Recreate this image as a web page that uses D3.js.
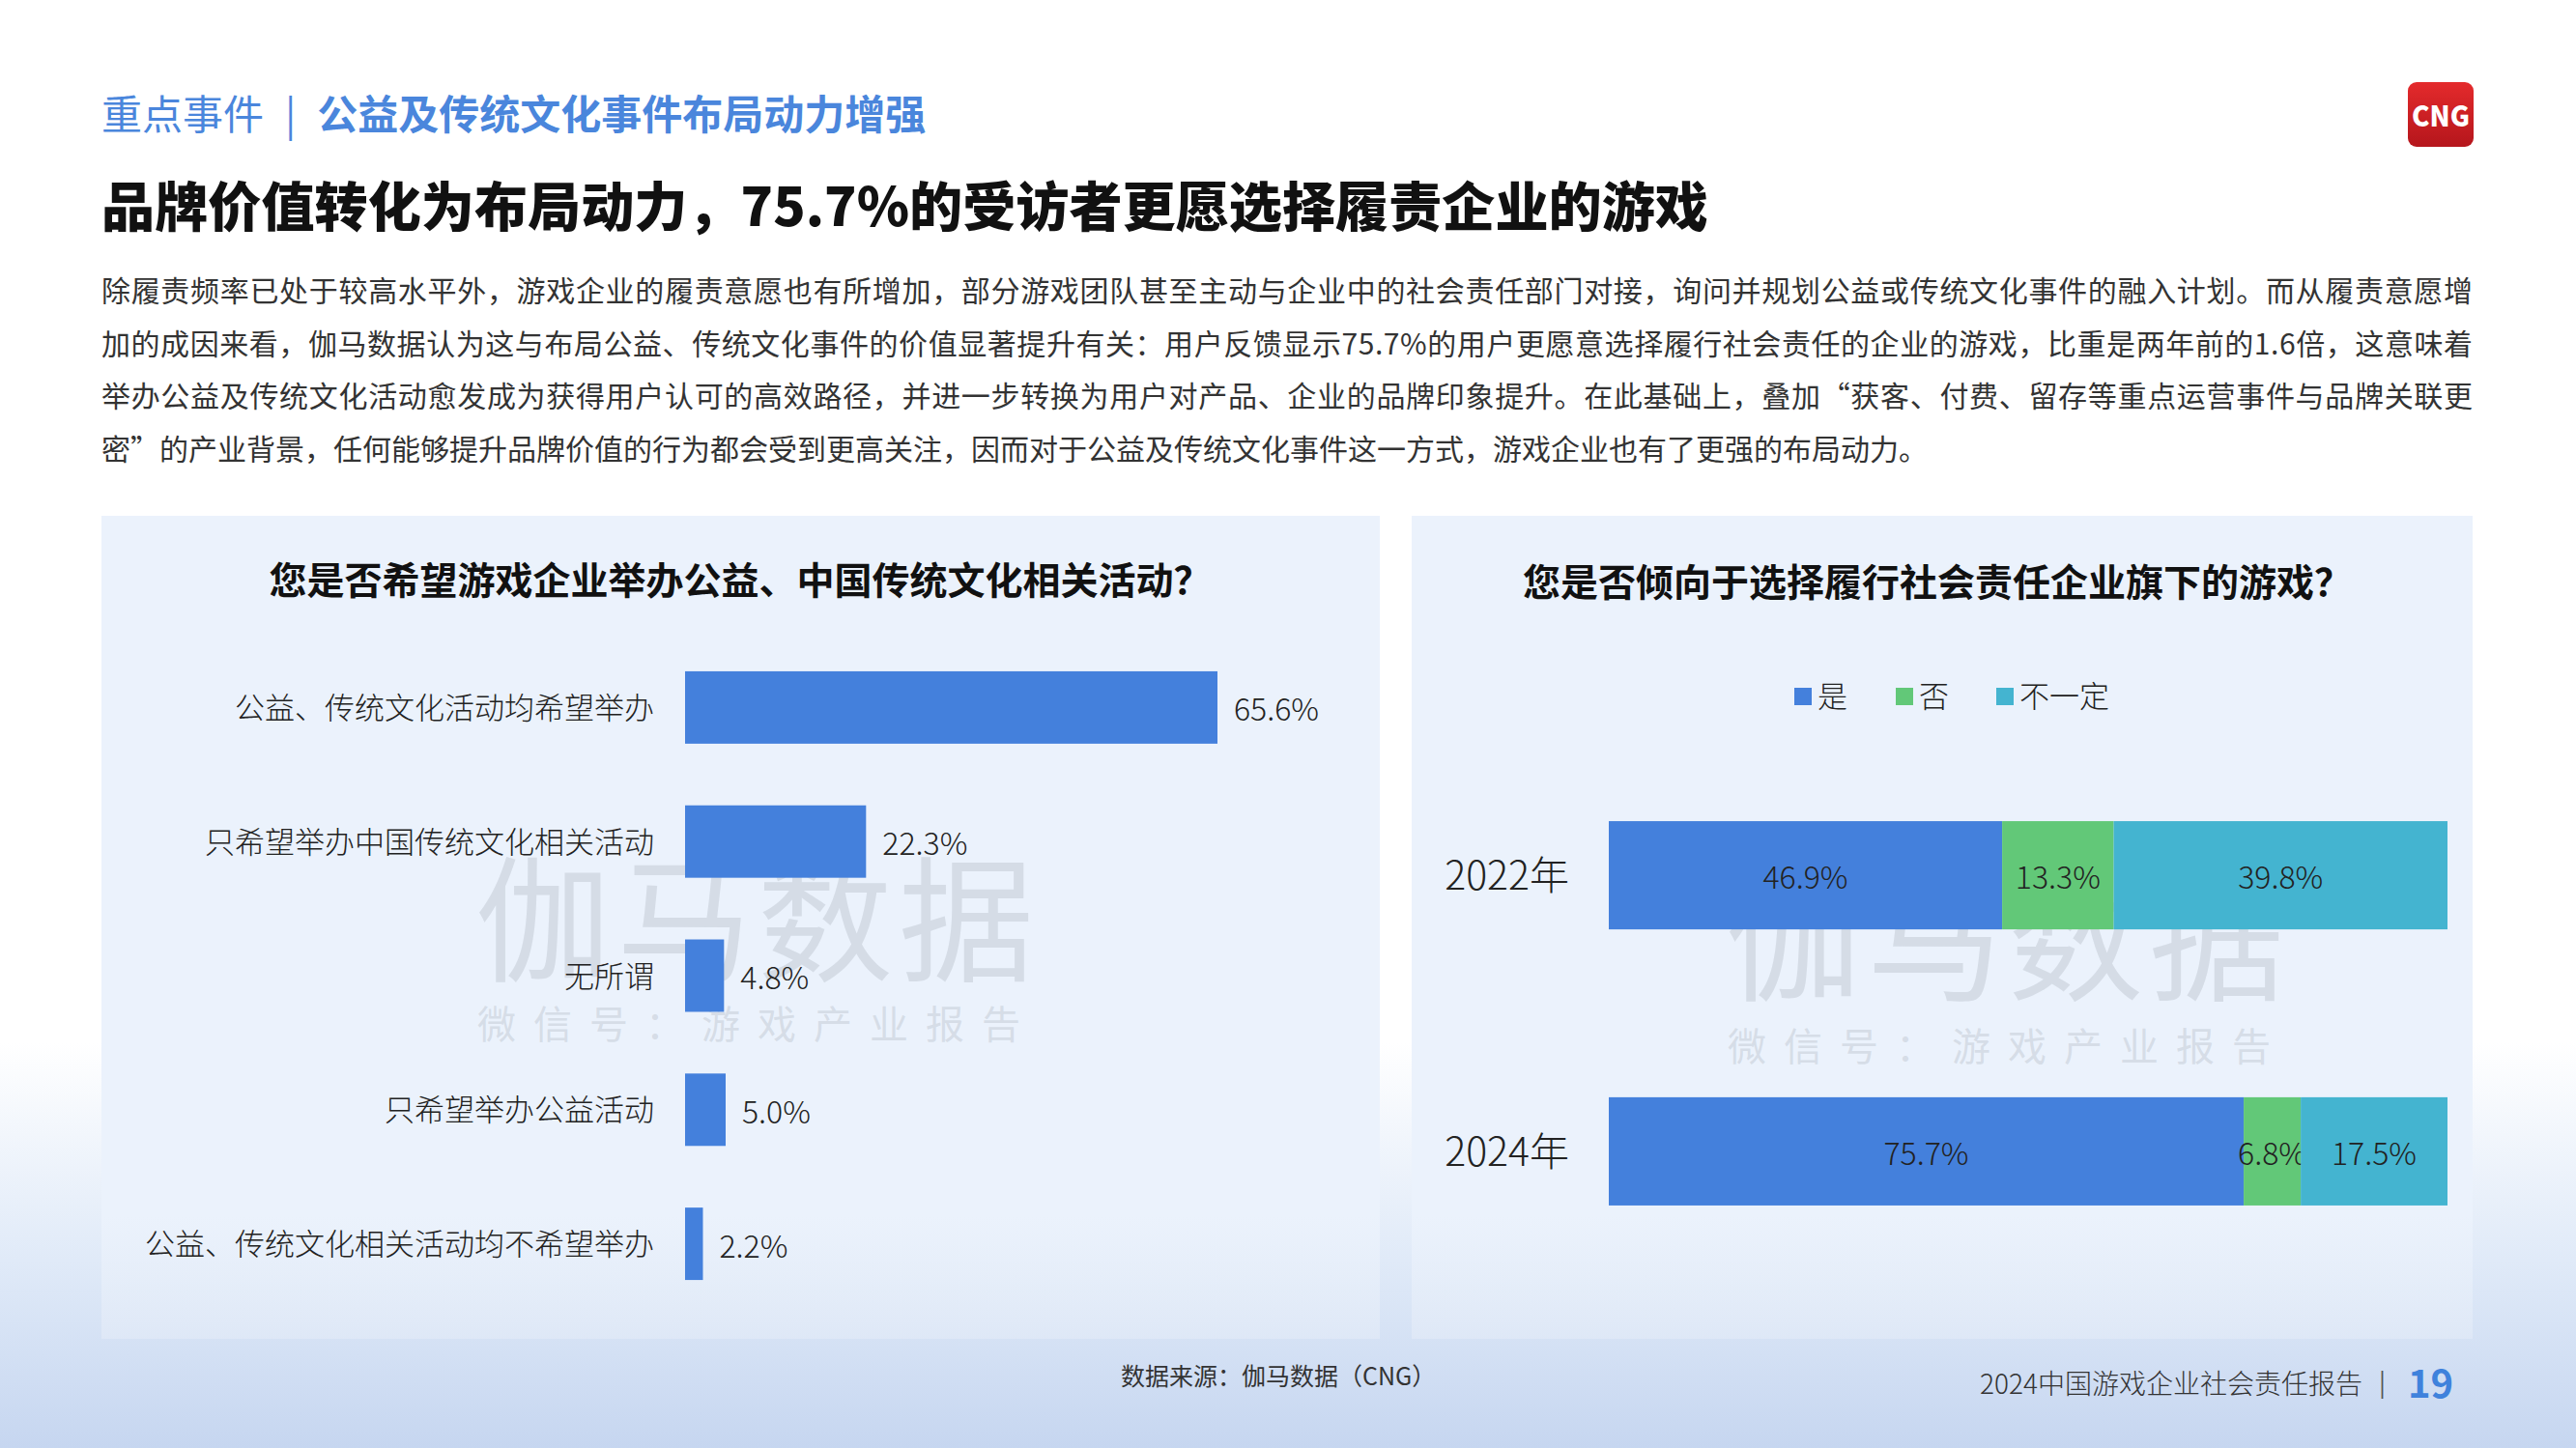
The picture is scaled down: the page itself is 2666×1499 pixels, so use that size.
<!DOCTYPE html>
<html><head><meta charset="utf-8">
<script src="https://cdn.jsdelivr.net/npm/d3@7/dist/d3.min.js"></script>
<style>
html,body{margin:0;padding:0;background:#fff;}
svg{display:block;}
text{font-family:"Noto Sans CJK SC","Noto Sans",sans-serif;}
</style></head>
<body>
<svg id="chart" width="2666" height="1499"></svg>
<script>
// ---------- data ----------
const leftCategories = ["公益、传统文化活动均希望举办","只希望举办中国传统文化相关活动","无所谓","只希望举办公益活动","公益、传统文化相关活动均不希望举办"];
const leftValues = [65.6, 22.3, 4.8, 5.0, 2.2];

const years = ["2022年","2024年"];
const seriesNames = ["是","否","不一定"];
const seriesYes = [46.9, 75.7];
const seriesNo = [13.3, 6.8];
const seriesMaybe = [39.8, 17.5];

const paragraphLines = [
 "除履责频率已处于较高水平外，游戏企业的履责意愿也有所增加，部分游戏团队甚至主动与企业中的社会责任部门对接，询问并规划公益或传统文化事件的融入计划。而从履责意愿增",
 "加的成因来看，伽马数据认为这与布局公益、传统文化事件的价值显著提升有关：用户反馈显示75.7%的用户更愿意选择履行社会责任的企业的游戏，比重是两年前的1.6倍，这意味着",
 "举办公益及传统文化活动愈发成为获得用户认可的高效路径，并进一步转换为用户对产品、企业的品牌印象提升。在此基础上，叠加“获客、付费、留存等重点运营事件与品牌关联更",
 "密”的产业背景，任何能够提升品牌价值的行为都会受到更高关注，因而对于公益及传统文化事件这一方式，游戏企业也有了更强的布局动力。"
];

// ---------- drawing ----------
const svg = d3.select("#chart");
const defs = svg.append("defs");

const bgGrad = defs.append("linearGradient").attr("id","bg").attr("x1",0).attr("y1",0).attr("x2",0).attr("y2",1);
bgGrad.append("stop").attr("offset","0").attr("stop-color","#ffffff");
bgGrad.append("stop").attr("offset","0.72").attr("stop-color","#ffffff");
bgGrad.append("stop").attr("offset","0.87").attr("stop-color","#e0eaf8");
bgGrad.append("stop").attr("offset","1").attr("stop-color","#c6d6f0");
svg.append("rect").attr("width",2666).attr("height",1499).attr("fill","url(#bg)");

const panelGrad = defs.append("linearGradient").attr("id","panel").attr("x1",0).attr("y1",0).attr("x2",0).attr("y2",1);
panelGrad.append("stop").attr("offset","0").attr("stop-color","#ebf2fc");
panelGrad.append("stop").attr("offset","0.85").attr("stop-color","#ebf2fc");
panelGrad.append("stop").attr("offset","1").attr("stop-color","#e4ecf8").attr("stop-opacity",0.6);

const logoGrad = defs.append("linearGradient").attr("id","logo").attr("x1",0).attr("y1",0).attr("x2",0).attr("y2",1);
logoGrad.append("stop").attr("offset","0").attr("stop-color","#e42a2c");
logoGrad.append("stop").attr("offset","1").attr("stop-color","#b5161c");

// header
const hdr = svg.append("text").attr("x",105).attr("y",134).attr("font-size",42).attr("fill","#4a86dc");
hdr.append("tspan").attr("font-weight",400).text("重点事件");
hdr.append("tspan").attr("font-weight",400).attr("dx",22).text("|");
hdr.append("tspan").attr("font-weight",700).attr("dx",22).text("公益及传统文化事件布局动力增强");

// logo
svg.append("rect").attr("x",2492).attr("y",85).attr("width",68).attr("height",67).attr("rx",9).attr("fill","url(#logo)");
svg.append("text").attr("x",2526).attr("y",131).attr("text-anchor","middle").attr("font-size",30)
  .attr("font-weight",900).attr("fill","#fff").attr("font-family","'DejaVu Serif','Liberation Serif',serif")
  .attr("textLength",60).attr("lengthAdjust","spacingAndGlyphs").text("CNG");

// title
svg.append("text").attr("x",105).attr("y",234).attr("font-size",55).attr("font-weight",900).attr("fill","#111")
  .attr("textLength",1663).attr("lengthAdjust","spacingAndGlyphs")
  .text("品牌价值转化为布局动力，75.7%的受访者更愿选择履责企业的游戏");

// paragraph
paragraphLines.forEach((ln,i)=>{
  const t = svg.append("text").attr("x",105).attr("y",312 + i*54.5).attr("font-size",30).attr("fill","#333").text(ln);
  if(i < paragraphLines.length-1) t.attr("textLength",2454).attr("lengthAdjust","spacing");
});

// panels
svg.append("rect").attr("x",105).attr("y",534).attr("width",1323).attr("height",852).attr("fill","url(#panel)");
svg.append("rect").attr("x",1461).attr("y",534).attr("width",1098).attr("height",852).attr("fill","url(#panel)");

// watermarks
function watermark(cx, y1, y2){
  svg.append("text").attr("x",cx).attr("y",y1).attr("text-anchor","middle").attr("font-size",140)
    .attr("fill","#b4bcc6").attr("fill-opacity",0.4).attr("letter-spacing",6).text("伽马数据");
  svg.append("text").attr("x",cx).attr("y",y2).attr("text-anchor","middle").attr("font-size",40)
    .attr("fill","#b4bcc6").attr("fill-opacity",0.4).attr("letter-spacing",18).text("微信号：游戏产业报告");
}
watermark(784, 1005, 1075);
watermark(2078, 1025, 1098);

// ---------- left chart ----------
svg.append("text").attr("x",766).attr("y",615).attr("text-anchor","middle").attr("font-size",39)
  .attr("font-weight",700).attr("fill","#111").text("您是否希望游戏企业举办公益、中国传统文化相关活动？");

const xL = d3.scaleLinear().domain([0,65.6]).range([709,1260]);
const yL = d3.scaleBand().domain(leftCategories).range([663,1357]).paddingInner(0.46).paddingOuter(0.23);
const blue = "#4480dc", green = "#62c878", teal = "#44b4d0";

const gL = svg.append("g");
gL.selectAll("rect.bar").data(leftValues).join("rect").attr("class","bar")
  .attr("x",xL(0)).attr("y",(d,i)=>yL(leftCategories[i]))
  .attr("width",d=>xL(d)-xL(0)).attr("height",yL.bandwidth()).attr("fill",blue);
gL.selectAll("text.val").data(leftValues).join("text").attr("class","val")
  .attr("x",d=>xL(d)+17).attr("y",(d,i)=>yL(leftCategories[i])+yL.bandwidth()/2)
  .attr("dominant-baseline","central").attr("font-size",32).attr("fill","#222").attr("font-weight",300)
  .text(d=>d.toFixed(1)+"%");
gL.selectAll("text.cat").data(leftCategories).join("text").attr("class","cat")
  .attr("x",677).attr("y",d=>yL(d)+yL.bandwidth()/2 - 2).attr("text-anchor","end")
  .attr("dominant-baseline","central").attr("font-size",31).attr("fill","#222").attr("font-weight",300)
  .text(d=>d);

// ---------- right chart ----------
svg.append("text").attr("x",2005).attr("y",617).attr("text-anchor","middle").attr("font-size",39)
  .attr("font-weight",700).attr("fill","#111").text("您是否倾向于选择履行社会责任企业旗下的游戏？");

const colors = d3.scaleOrdinal().domain(seriesNames).range([blue, green, teal]);
// legend
const legX = [1857, 1962, 2066];
seriesNames.forEach((s,i)=>{
  svg.append("rect").attr("x",legX[i]).attr("y",712).attr("width",18).attr("height",18).attr("fill",colors(s));
  svg.append("text").attr("x",legX[i]+24).attr("y",718).attr("dominant-baseline","central")
    .attr("font-size",31).attr("fill","#222").attr("font-weight",300).text(s);
});

const xR = d3.scaleLinear().domain([0,100]).range([1665,2533]);
const yR = d3.scaleBand().domain(years).range([670,1428]).paddingInner(0.608).paddingOuter(0.63);
const rows = years.map((y,i)=>({year:y, "是":seriesYes[i], "否":seriesNo[i], "不一定":seriesMaybe[i]}));
const stacked = d3.stack().keys(seriesNames)(rows);

const gR = svg.append("g");
stacked.forEach(layer=>{
  gR.selectAll(null).data(layer).join("rect")
    .attr("x",d=>xR(d[0])).attr("y",d=>yR(d.data.year))
    .attr("width",d=>xR(d[1])-xR(d[0])).attr("height",yR.bandwidth()).attr("fill",colors(layer.key));
  gR.selectAll(null).data(layer).join("text")
    .attr("x",d=>(xR(d[0])+xR(d[1]))/2).attr("y",d=>yR(d.data.year)+yR.bandwidth()/2)
    .attr("text-anchor","middle").attr("dominant-baseline","central")
    .attr("font-size",32).attr("fill","#222").attr("font-weight",300)
    .text(d=>(d[1]-d[0]).toFixed(1)+"%");
});
gR.selectAll("text.yr").data(years).join("text").attr("class","yr")
  .attr("x",1624).attr("y",d=>yR(d)+yR.bandwidth()/2 - 3).attr("text-anchor","end")
  .attr("dominant-baseline","central").attr("font-size",41).attr("fill","#222").attr("font-weight",300)
  .text(d=>d);

// ---------- footer ----------
svg.append("text").attr("x",1160).attr("y",1434).attr("font-size",25).attr("fill","#333").text("数据来源：伽马数据（CNG）");
svg.append("text").attr("x",2049).attr("y",1443).attr("font-size",28).attr("fill","#333").attr("font-weight",300)
  .text("2024中国游戏企业社会责任报告");
svg.append("text").attr("x",2462).attr("y",1441).attr("font-size",26).attr("fill","#555").text("|");
svg.append("text").attr("x",2492).attr("y",1447).attr("font-size",40).attr("font-weight",700).attr("fill","#3f82dc").text("19");
</script>
</body></html>
